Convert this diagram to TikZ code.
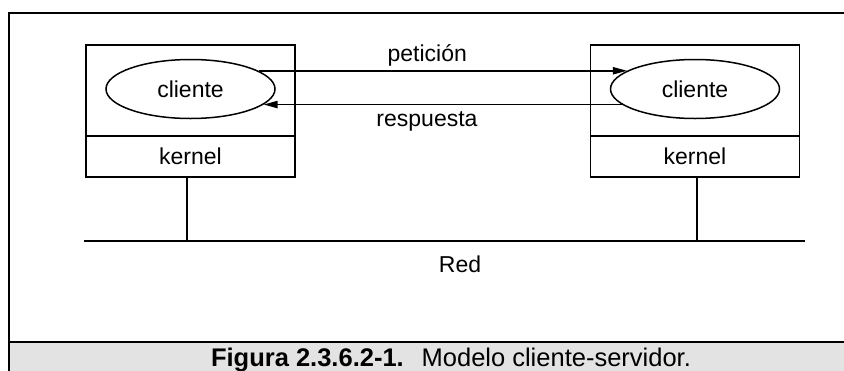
\documentclass[tikz,border=0pt]{standalone}
\usepackage{fontspec}
\setmainfont{Liberation Sans}
\usetikzlibrary{shapes.geometric,arrows.meta}

\begin{document}
\begin{tikzpicture}[
  x=0.5pt, y=-0.5pt,
  caja/.style={draw, line width=0.75pt, inner sep=0pt, outer sep=0pt,
    minimum width=104.5pt, minimum height=45.5pt},
  nucleo/.style={draw, line width=0.75pt, inner sep=0pt, outer sep=0pt,
    minimum width=104.5pt, minimum height=20.5pt, font=\fontsize{11.5}{13}\selectfont},
  proceso/.style={draw, ellipse, line width=0.75pt, inner sep=0pt,
    minimum width=84.5pt, minimum height=29.5pt, font=\fontsize{11.5}{13}\selectfont},
  etiqueta/.style={font=\fontsize{11.5}{13}\selectfont},
  flecha/.style={->, line width=0.75pt},
  >={Triangle[length=7pt,width=3.6pt]},
  ]
  \useasboundingbox (0,0) rectangle (844,370);
  \clip (0,0) rectangle (844,370);

  % Marco y banda del pie
  \fill[black!11] (9,342) rectangle (870,380);
  \draw[line width=1pt] (9,380) -- (9,12.5) -- (870,12.5);
  \draw[line width=1.3pt] (9,342) -- (870,342);
  \node[anchor=base, font=\fontsize{12.75}{15}\selectfont] (pie) at (451,366)
    {\textbf{Figura 2.3.6.2-1.}\hspace{0.7em}Modelo cliente-servidor.};

  % Maquinas
  \node[caja]   (cajaA) at (190.5,90.5) {};
  \node[nucleo] (kerA)  at (190.5,156.5) {kernel};
  \node[proceso] (cliA) at (190.5,89) {cliente};

  \node[caja]   (cajaB) at (695,90.5) {};
  \node[nucleo] (kerB)  at (695,156.5) {kernel};
  \node[proceso] (cliB) at (695,89) {cliente};

  % Mensajes
  \draw[flecha] (cliA.15) -- node[etiqueta, above, inner sep=2pt, pos=.458] (pet) {petición} (cliB.165);
  \draw[flecha] (cliB.-168) -- node[etiqueta, below, pos=.544] (resp) {respuesta} (cliA.-12);

  % Red
  \coordinate (redIzq) at (84,241);
  \coordinate (redDer) at (805,241);
  \coordinate (tomaA) at (187,241);
  \coordinate (tomaB) at (697,241);
  \draw[line width=1pt] (redIzq) -- (redDer);
  \draw[line width=0.75pt] (tomaA |- kerA.south) -- (tomaA);
  \draw[line width=0.75pt] (tomaB |- kerB.south) -- (tomaB);
  \node[etiqueta] (red) at (460,264) {Red};
\end{tikzpicture}
\end{document}
